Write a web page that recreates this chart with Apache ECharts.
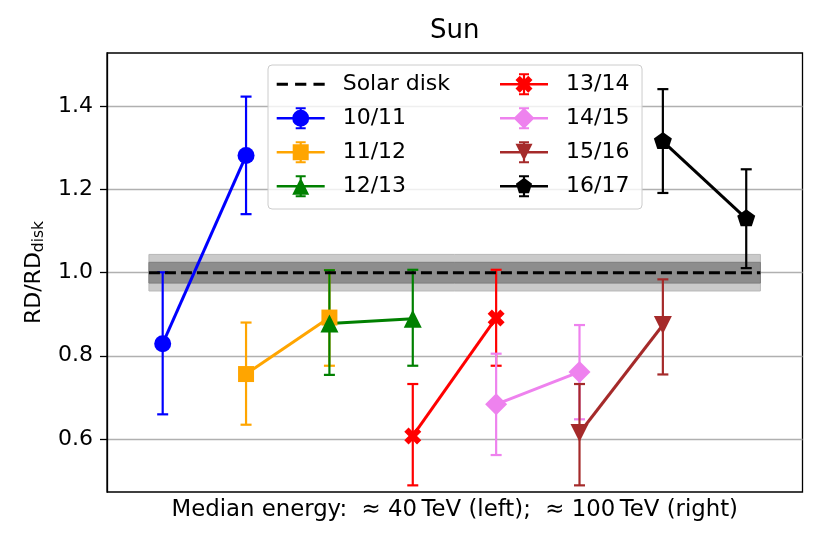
<!DOCTYPE html>
<html>
<head>
<meta charset="utf-8">
<script src="https://cdn.jsdelivr.net/npm/echarts@6/dist/echarts.min.js"></script>
<style>
html,body{margin:0;padding:0;background:#fff;}
#chart{width:830px;height:554px;}
</style>
</head>
<body>
<div id="chart"></div>
<script>
// ---------------- data ----------------
const seasons = ['10/11', '11/12', '12/13', '13/14', '14/15', '15/16', '16/17'];
const xLeft = [1, 2, 3, 4, 5, 6, 7];        // ≈40 TeV point position
const xRight = [2, 3, 4, 5, 6, 7, 8];       // ≈100 TeV point position
const ratioLeft = [0.829, 0.756, 0.878, 0.607, 0.683, 0.614, 1.316];
const ratioRight = [1.282, 0.892, 0.889, 0.891, 0.761, 0.874, 1.130];
const lowerLeft = [0.659, 0.634, 0.754, 0.488, 0.561, 0.488, 1.192];
const upperLeft = [1.001, 0.880, 1.006, 0.732, 0.805, 0.732, 1.442];
const lowerRight = [1.141, 0.776, 0.776, 0.776, 0.647, 0.755, 1.011];
const upperRight = [1.424, 1.006, 1.007, 1.007, 0.874, 0.984, 1.249];
const solarX = [0.835, 8.17];
const solarLevel = 1.0;
const bandOuter = [0.956, 1.044];
const bandInner = [0.975, 1.025];
const yTicks = [0.6, 0.8, 1.0, 1.2, 1.4];

// ---------------- styles ----------------
const colors = ['#0000ff', '#ffa500', '#008000', '#ff0000', '#ee82ee', '#a52a2a', '#000000'];
const pathX = 'path://M2.5,0 L5,2.5 L7.5,0 L10,2.5 L7.5,5 L10,7.5 L7.5,10 L5,7.5 L2.5,10 L0,7.5 L2.5,5 L0,2.5 Z';
const pathPent = 'path://M0,-1 L0.951,-0.309 L0.588,0.809 L-0.588,0.809 L-0.951,-0.309 Z';
const symbols = ['circle', 'rect', 'triangle', pathX, 'diamond', 'triangle', pathPent];
const symbolSizes = [17, 16, 18, 17, 22, 18, [18, 17]];
const symbolRotates = [0, 0, 0, 0, 0, 180, 0];
const symbolOffsets = [[0,0],[0,0],[0,0],[0,0],[0,0],[0,0],[0,-1]];

const legendBase = 'M0 10.8H48V13.2H0Z M22.9 1H25.1V23H22.9Z M19 1H29V3H19Z M19 21H29V23H19Z ';
const legendMarkers = [
  'M32.5 12A8.5 8.5 0 1 1 15.5 12A8.5 8.5 0 1 1 32.5 12Z',
  'M16 4H32V20H16Z',
  'M24 3.5L32.5 20.5L15.5 20.5Z',
  'M19.75 3.5L24 7.75L28.25 3.5L32.5 7.75L28.25 12L32.5 16.25L28.25 20.5L24 16.25L19.75 20.5L15.5 16.25L19.75 12L15.5 7.75Z',
  'M24 1.5L34.5 12L24 22.5L13.5 12Z',
  'M15.5 3.5L32.5 3.5L24 20.5Z',
  'M24 3.5L32.08 9.37L29 18.88L19 18.88L15.92 9.37Z'
];
const solarIcon = 'path://M0 0H11V3H0Z M18 0H29V3H18Z M36 0H47V3H36Z';

const FONT = 'DejaVu Sans';

function renderErr(params, api) {
  const x = api.value(0), lo = api.value(1), hi = api.value(2);
  const p1 = api.coord([x, lo]);
  const p2 = api.coord([x, hi]);
  const hw = 5.5;
  const c = api.visual('color');
  const st = () => ({ stroke: c, lineWidth: 2.2 });
  return {
    type: 'group',
    children: [
      { type: 'line', shape: { x1: p1[0], y1: p1[1], x2: p2[0], y2: p2[1] }, style: st() },
      { type: 'line', shape: { x1: p1[0] - hw, y1: p1[1], x2: p1[0] + hw, y2: p1[1] }, style: st() },
      { type: 'line', shape: { x1: p2[0] - hw, y1: p2[1], x2: p2[0] + hw, y2: p2[1] }, style: st() }
    ]
  };
}

const series = [];
series.push({
  name: 'Solar disk',
  type: 'line',
  data: solarX.map(x => [x, solarLevel]),
  symbol: 'none',
  lineStyle: { color: '#000', width: 3, type: [11, 5] },
  itemStyle: { color: '#000' },
  markArea: {
    silent: true,
    data: [
      [{ xAxis: solarX[0], yAxis: bandOuter[0], itemStyle: { color: '#cacaca', borderColor: '#b8b8b8', borderWidth: 1 } },
       { xAxis: solarX[1], yAxis: bandOuter[1] }],
      [{ xAxis: solarX[0], yAxis: bandInner[0], itemStyle: { color: '#8d8d8d', borderColor: '#7e7e7e', borderWidth: 1 } },
       { xAxis: solarX[1], yAxis: bandInner[1] }]
    ]
  },
  z: 2
});

seasons.forEach((s, i) => {
  series.push({
    name: 'err ' + s,
    type: 'custom',
    renderItem: renderErr,
    itemStyle: { color: colors[i] },
    encode: { x: 0, y: [1, 2] },
    data: [[xLeft[i], lowerLeft[i], upperLeft[i]], [xRight[i], lowerRight[i], upperRight[i]]],
    z: 2
  });
  series.push({
    name: s,
    type: 'line',
    data: [[xLeft[i], ratioLeft[i]], [xRight[i], ratioRight[i]]],
    symbol: symbols[i],
    symbolSize: symbolSizes[i],
    symbolRotate: symbolRotates[i],
    symbolOffset: symbolOffsets[i],
    showAllSymbol: true,
    lineStyle: { color: colors[i], width: 3 },
    itemStyle: { color: colors[i], borderWidth: 0 },
    z: 2
  });
});

const legendStyle = {
  orient: 'vertical',
  itemWidth: 48,
  itemHeight: 22,
  itemGap: 12,
  itemStyle: { borderWidth: 0 },
  textStyle: { fontFamily: FONT, fontSize: 22, color: '#000', padding: [0, 0, 0, 13] },
  selectedMode: false
};

const option = {
  animation: false,
  backgroundColor: '#fff',
  title: {
    text: 'Sun',
    left: 430,
    top: 18,
    padding: 0,
    textStyle: { fontFamily: FONT, fontSize: 26, fontWeight: 'normal', color: '#000' }
  },
  legend: [
    Object.assign({}, legendStyle, {
      left: 268, top: 65,
      padding: [8.3, 192, 11.7, 8.7],
      backgroundColor: 'rgba(255,255,255,0.8)',
      borderColor: '#cccccc',
      borderWidth: 1,
      borderRadius: 4,
      data: [{ name: 'Solar disk', icon: solarIcon }].concat(
        seasons.slice(0, 3).map((s, i) => ({ name: s, icon: 'path://' + legendBase + legendMarkers[i] })))
    }),
    Object.assign({}, legendStyle, {
      left: 500, top: 73.3,
      padding: 0,
      data: seasons.slice(3).map((s, i) => ({ name: s, icon: 'path://' + legendBase + legendMarkers[i + 3] }))
    })
  ],
  grid: {
    left: 107, right: 27.5, top: 53, bottom: 62,
    show: true, borderColor: '#000', borderWidth: 1.3, backgroundColor: 'transparent'
  },
  xAxis: {
    type: 'value',
    min: 0.332, max: 8.675,
    axisLine: { show: false },
    axisTick: { show: false },
    axisLabel: { show: false },
    splitLine: { show: false },
    name: 'Median energy:  \u2248 40\u2009TeV (left);  \u2248 100\u2009TeV (right)',
    nameLocation: 'middle',
    nameGap: 7,
    nameTextStyle: { fontFamily: FONT, fontSize: 22.8, color: '#000' }
  },
  yAxis: {
    type: 'value',
    min: 0.472, max: 1.529,
    axisLine: { show: true, lineStyle: { color: '#000', width: 1.3 } },
    axisTick: { show: true, customValues: yTicks, length: 7, lineStyle: { color: '#000', width: 1.3 } },
    axisLabel: {
      show: true, customValues: yTicks, margin: 14,
      formatter: v => Number(v).toFixed(1),
      fontFamily: FONT, fontSize: 22, color: '#000'
    },
    splitLine: { show: true, customValues: yTicks, lineStyle: { color: '#b0b0b0', width: 1.3 } },
    name: '{a|RD/RD}{b|disk}',
    nameLocation: 'middle',
    nameGap: 48,
    nameTextStyle: {
      fontFamily: FONT, color: '#000',
      rich: {
        a: { fontFamily: FONT, fontSize: 22, lineHeight: 26, color: '#000' },
        b: { fontFamily: FONT, fontSize: 15.5, lineHeight: 12, verticalAlign: 'bottom', color: '#000' }
      }
    }
  },
  series: series
};

const chart = echarts.init(document.getElementById('chart'), null, { renderer: 'canvas' });
chart.setOption(option);
</script>
</body>
</html>
